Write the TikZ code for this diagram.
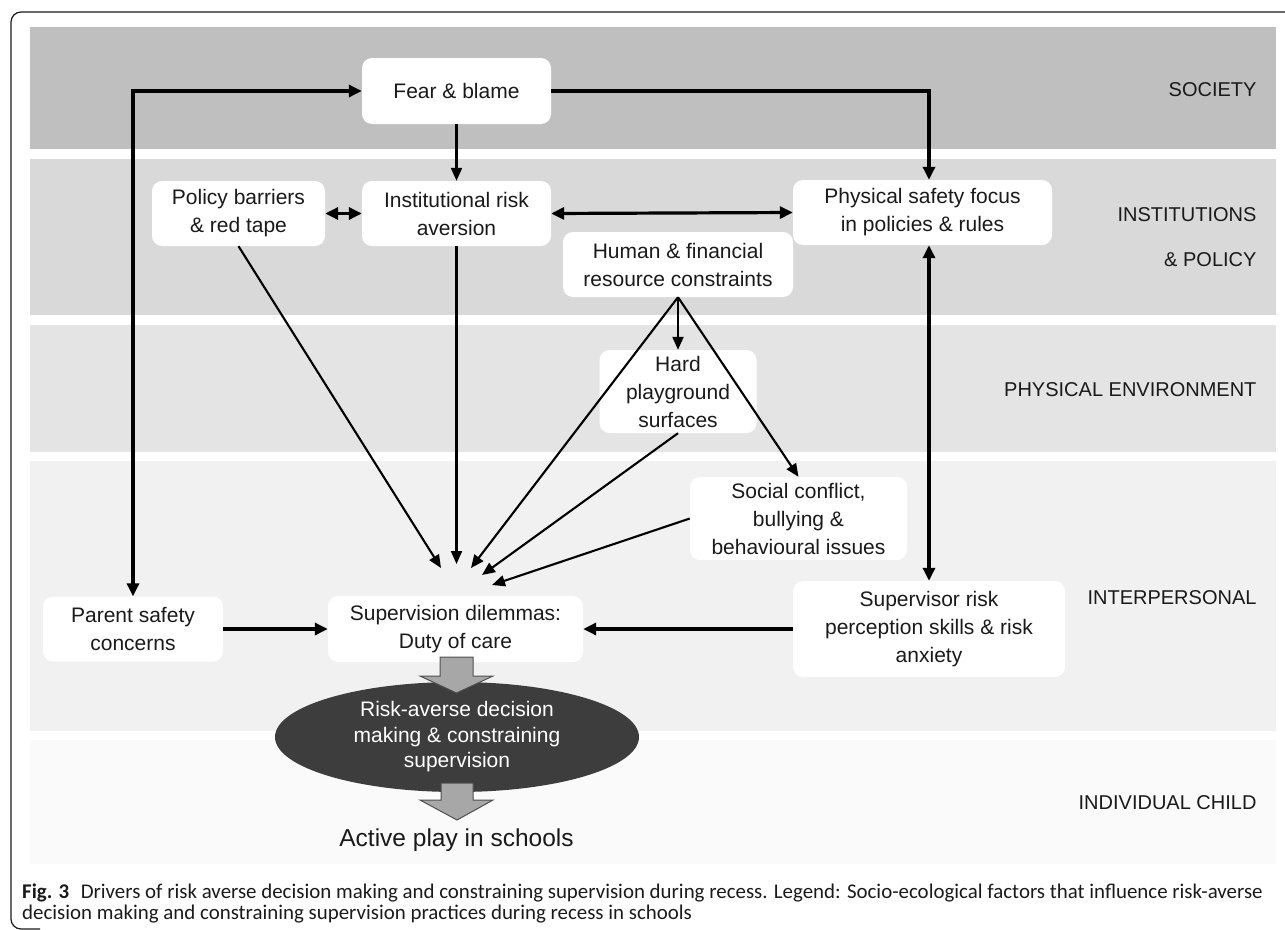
\documentclass[tikz,border=0pt]{standalone}
\usepackage{fontspec}
\setmainfont{Liberation Sans}
\newfontfamily\capfont{Carlito}
\usetikzlibrary{arrows.meta,shapes.geometric,calc}
\definecolor{bandA}{HTML}{BFBFBF}
\definecolor{bandB}{HTML}{D9D9D9}
\definecolor{bandC}{HTML}{E4E4E4}
\definecolor{bandD}{HTML}{F1F1F1}
\definecolor{bandE}{HTML}{FAFAFA}
\definecolor{ellfill}{HTML}{3D3D3D}
\definecolor{blockfill}{HTML}{A8A7A7}
\definecolor{blockedge}{HTML}{505050}
\definecolor{txt}{HTML}{1A1A1A}
\begin{document}
\begin{tikzpicture}[x=1pt,y=-1pt,
  box/.style={fill=white, rounded corners=10pt, align=center, text=txt,
    font=\fontsize{21}{28}\selectfont, inner sep=0pt},
  lbl/.style={anchor=east, text=txt, font=\fontsize{20}{24}\selectfont},
  thickarr/.style={line width=3.2pt, -{Triangle[length=13pt,width=12pt]}},
  thickdbl/.style={line width=3.2pt, {Triangle[length=13pt,width=12pt]}-{Triangle[length=13pt,width=12pt]}},
  thinarr/.style={line width=2.1pt, -{Triangle[length=13pt,width=11pt]}},
  blockarr/.style={fill=blockfill, draw=blockedge, line width=1pt, line join=miter},
  capstyle/.style={anchor=west, text=txt, font=\capfont\fontsize{20.9}{21}\selectfont, inner sep=0pt}
]
\useasboundingbox (0,0) rectangle (1285,929);
% frame
\draw[line width=1.2pt, color=txt, rounded corners=10pt] (1290,12) -- (11,12) -- (11,929) -- (40,929);
% bands
\fill[bandA] (30,27) rectangle (1276,149);
\fill[bandB] (30,159) rectangle (1276,315);
\fill[bandC] (30,325) rectangle (1276,452);
\fill[bandD] (30,461) rectangle (1276,731);
\fill[bandE] (30,740) rectangle (1276,864);
% band labels
\node[lbl] (lsoc) at (1260,90) {SOCIETY};
\node[lbl] (linst) at (1260,215) {INSTITUTIONS};
\node[lbl] (lpol) at (1260,260) {\& POLICY};
\node[lbl] (lphys) at (1260,390) {PHYSICAL ENVIRONMENT};
\node[lbl] (linter) at (1260,598) {INTERPERSONAL};
\node[lbl] (lchild) at (1260,803) {INDIVIDUAL CHILD};
% boxes
\node[box, minimum width=189pt, minimum height=66pt] (fear) at (456.5,91) {Fear \& blame};
\node[box, minimum width=173pt, minimum height=65pt] (policy) at (238.5,213.5) {Policy barriers\\\& red tape};
\node[box, minimum width=189pt, minimum height=65pt] (inst) at (456.5,213.5) {Institutional risk\\aversion};
\node[box, minimum width=259pt, minimum height=65pt] (phys) at (922.5,212.5) {Physical safety focus\\in policies \& rules};
\node[box, minimum width=230pt, minimum height=65pt] (human) at (678,264.5) {Human \& financial\\resource constraints};
\node[box, minimum width=157pt, minimum height=83pt] (hard) at (678,391.5) {Hard\\playground\\surfaces};
\node[box, minimum width=217pt, minimum height=83pt] (social) at (798.5,518.5) {Social conflict,\\bullying \&\\behavioural issues};
\node[box, minimum width=180pt, minimum height=65pt] (parent) at (133,629) {Parent safety\\concerns};
\node[box, minimum width=255pt, minimum height=66pt] (superv) at (455.5,629) {Supervision dilemmas:\\Duty of care};
\node[box, minimum width=272pt, minimum height=96pt] (supervisor) at (929,629) {Supervisor risk\\perception skills \& risk\\anxiety};
% ellipse
\node[ellipse, fill=ellfill, minimum width=364pt, minimum height=110pt, inner sep=0pt, text=white, align=center, font=\fontsize{21}{25.5}\selectfont] (res) at (457,737) {Risk-averse decision\\making \& constraining\\supervision};
\node[text=txt, font=\fontsize{24.5}{28}\selectfont, inner sep=0pt] (play) at (456.5,840) {Active play in schools};
% block arrows
\draw[blockarr] (440,657) -- (473,657) -- (473,676) -- (493,676) -- (456.5,693) -- (420,676) -- (440,676) -- cycle;
\draw[blockarr] (441,783) -- (473,783) -- (473,800) -- (493,800) -- (457,820) -- (420,800) -- (441,800) -- cycle;
% target coordinates near supervision dilemmas
\coordinate (t1) at (441,568);
\coordinate (t2) at (456.5,564);
\coordinate (t3) at (471,568);
\coordinate (t4) at (482,575);
\coordinate (t5) at (492,585);
% connectors
\draw[thickdbl] (parent.north) |- (fear.west);
\draw[thickarr] (fear.east) -| (phys.north -| supervisor.north);
\draw[thinarr] (fear.south) -- (inst.north);
\draw[thickdbl] (policy.east) -- (inst.west);
\draw[thickdbl] (inst.east) -- (phys.west);
\draw[thickdbl] (phys.south -| supervisor.north) -- (supervisor.north);
\draw[thinarr] (policy.south) -- (t1);
\draw[thinarr] (inst.south) -- (t2);
\draw[thinarr] (human.south) -- (t3);
\draw[thinarr] (human.south) -- (hard.north);
\draw[thinarr] (human.south) -- (social.north);
\draw[thinarr] (hard.south) -- (t4);
\draw[thinarr] (social.west) -- (t5);
\draw[thickarr] (parent.east) -- (superv.west);
\draw[thickarr] (supervisor.west) -- (superv.east);
% caption
\node[capstyle] (cap1) at (22,893) {\textbf{Fig. 3}\hspace{0.55em}Drivers of risk averse decision making and constraining supervision during recess. Legend: Socio-ecological factors that influence risk-averse};
\node[capstyle] (cap2) at (22,914) {decision making and constraining supervision practices during recess in schools};
\end{tikzpicture}
\end{document}
